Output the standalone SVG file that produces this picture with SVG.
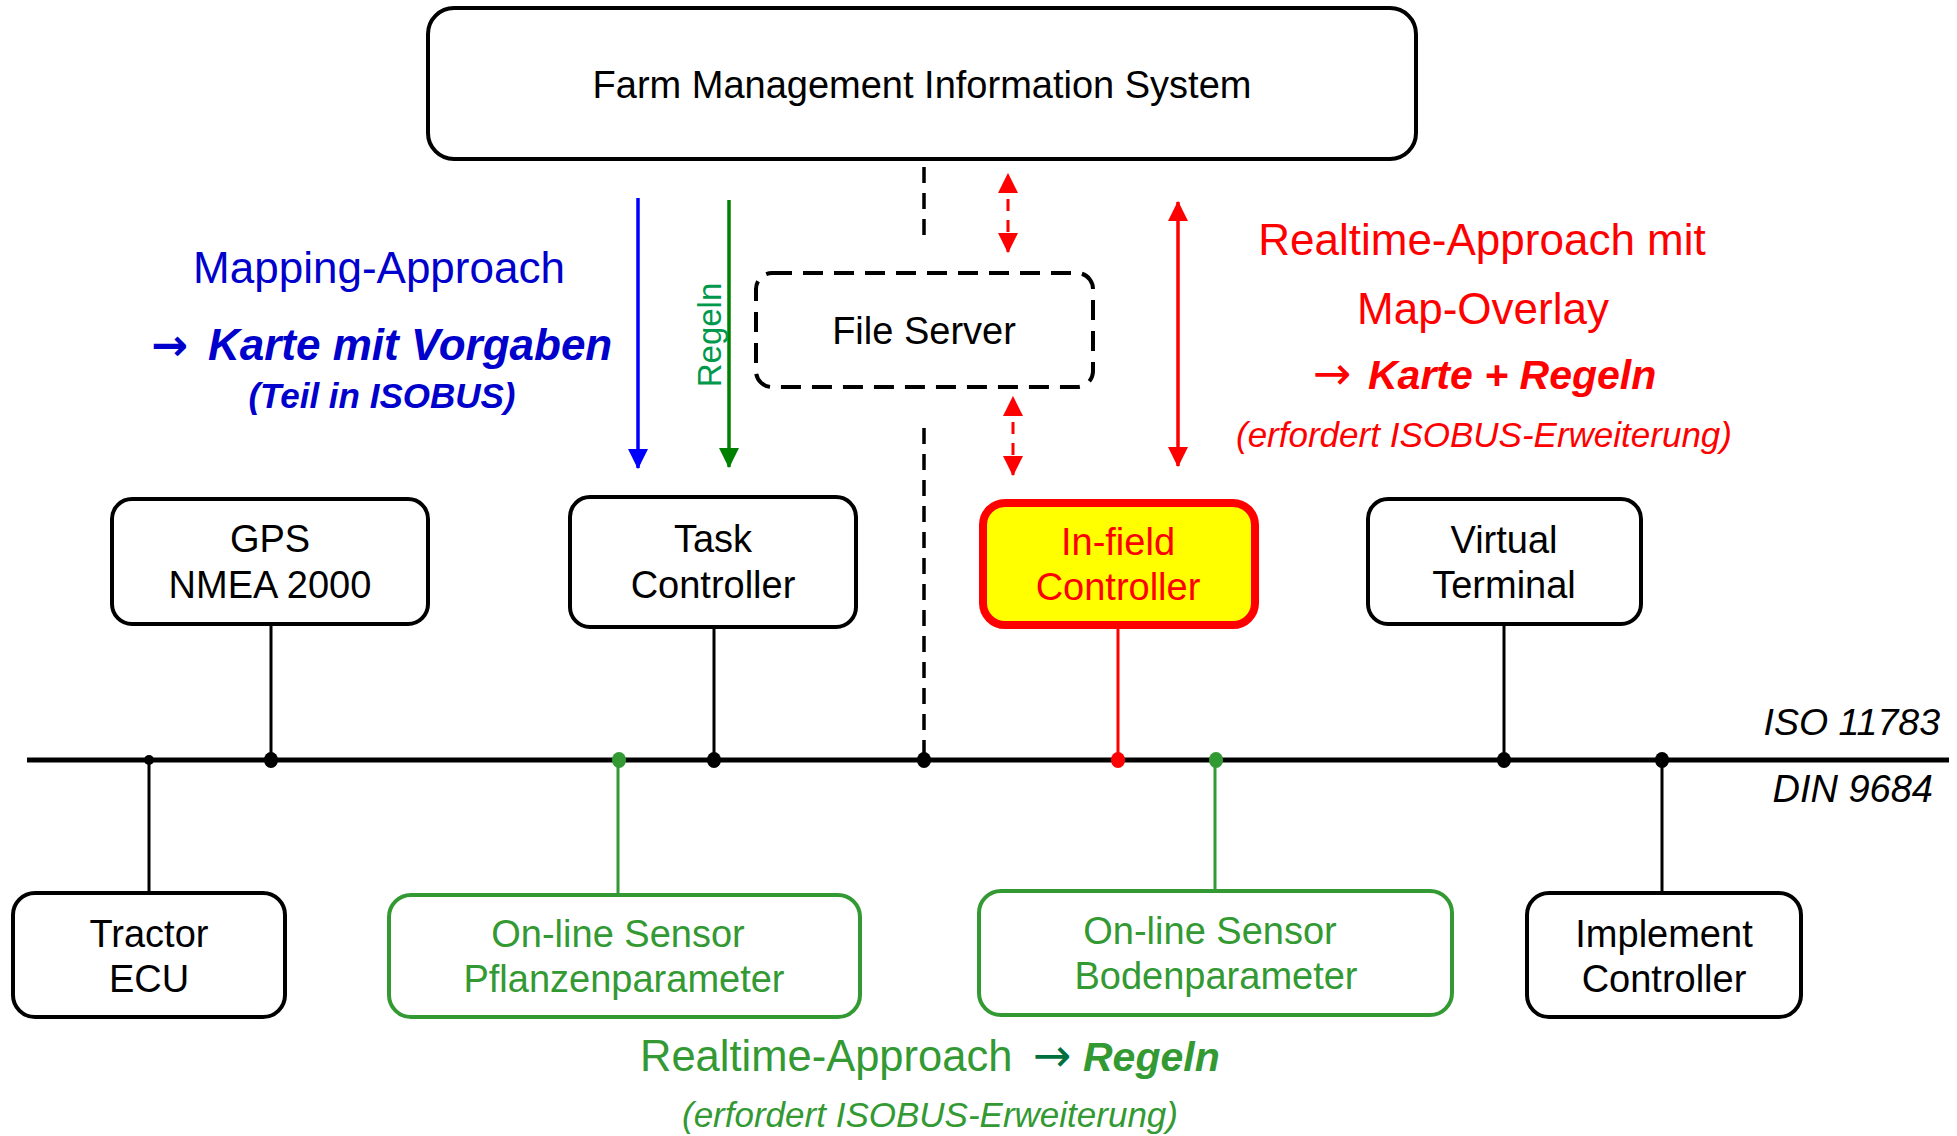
<svg xmlns="http://www.w3.org/2000/svg" width="1957" height="1136" viewBox="0 0 1957 1136">
<defs>
<style>
text{font-family:"Liberation Sans",Arial,sans-serif;}
.box{fill:#fff;stroke:#000;stroke-width:4;}
.gbox{fill:#fff;stroke:#339933;stroke-width:4;}
.lbl{font-size:38px;fill:#000;text-anchor:middle;}
.glbl{font-size:38px;fill:#339933;text-anchor:middle;}
.bus{stroke:#000;stroke-width:5;}
.stub{stroke:#000;stroke-width:3;}
.gstub{stroke:#339933;stroke-width:3;}
.dash{stroke:#000;stroke-width:3.5;stroke-dasharray:16 10;fill:none;}
.arr{font-family:"DejaVu Sans",sans-serif;}
</style>
<marker id="hb" markerUnits="userSpaceOnUse" markerWidth="20" markerHeight="20" viewBox="0 0 18 18" refX="17" refY="9" orient="auto"><path d="M0,0L18,9L0,18z" fill="#0000ff"/></marker>
<marker id="hg" markerUnits="userSpaceOnUse" markerWidth="20" markerHeight="20" viewBox="0 0 18 18" refX="17" refY="9" orient="auto"><path d="M0,0L18,9L0,18z" fill="#008000"/></marker>
<marker id="hr" markerUnits="userSpaceOnUse" markerWidth="20" markerHeight="20" viewBox="0 0 18 18" refX="17" refY="9" orient="auto-start-reverse"><path d="M0,0L18,9L0,18z" fill="#ff0000"/></marker>
</defs>

<g id="connectors">
<line class="bus" x1="27" y1="760" x2="1949" y2="760"/>
<line class="stub" x1="149" y1="760" x2="149" y2="893"/>
<line class="stub" x1="271" y1="624" x2="271" y2="760"/>
<line class="gstub" x1="618" y1="760" x2="618" y2="895"/>
<line class="stub" x1="714" y1="627" x2="714" y2="760"/>
<line x1="1118" y1="629" x2="1118" y2="760" stroke="#ff0000" stroke-width="3"/>
<line class="gstub" x1="1215" y1="760" x2="1215" y2="891"/>
<line class="stub" x1="1504" y1="624" x2="1504" y2="760"/>
<line class="stub" x1="1662" y1="760" x2="1662" y2="893"/>
<line class="dash" x1="924" y1="167" x2="924" y2="245"/>
<line class="dash" x1="924" y1="428" x2="924" y2="757"/>
<ellipse cx="149" cy="760" rx="5" ry="5"/>
<ellipse cx="271" cy="760" rx="7" ry="8"/>
<ellipse cx="619" cy="760" rx="7" ry="8" fill="#339933"/>
<ellipse cx="714" cy="760" rx="7" ry="8"/>
<ellipse cx="924" cy="760" rx="7" ry="8"/>
<ellipse cx="1118" cy="760" rx="7" ry="8" fill="#ff0000"/>
<ellipse cx="1216" cy="760" rx="7" ry="8" fill="#339933"/>
<ellipse cx="1504" cy="760" rx="7" ry="8"/>
<ellipse cx="1662" cy="760" rx="7" ry="8"/>
<line x1="638" y1="198" x2="638" y2="468" stroke="#0000ff" stroke-width="3.5" marker-end="url(#hb)"/>
<line x1="729" y1="200" x2="729" y2="467" stroke="#008000" stroke-width="3.5" marker-end="url(#hg)"/>
<line x1="1178" y1="202" x2="1178" y2="466" stroke="#ff0000" stroke-width="3.5" marker-start="url(#hr)" marker-end="url(#hr)"/>
<line x1="1008" y1="174" x2="1008" y2="252" stroke="#ff0000" stroke-width="3" stroke-dasharray="12 9" stroke-dashoffset="-4" marker-start="url(#hr)" marker-end="url(#hr)"/>
<line x1="1013" y1="397" x2="1013" y2="475" stroke="#ff0000" stroke-width="3" stroke-dasharray="12 9" stroke-dashoffset="-4" marker-start="url(#hr)" marker-end="url(#hr)"/>
</g>

<g id="fmis">
<rect class="box" x="428" y="8" width="988" height="151" rx="26"/>
<text class="lbl" x="922" y="98">Farm Management Information System</text>
</g>

<g id="fileserver">
<rect x="756" y="273" width="337" height="114" rx="16" fill="#fff" stroke="#000" stroke-width="4" stroke-dasharray="20 11"/>
<text class="lbl" x="924" y="344">File Server</text>
</g>

<g id="gps">
<rect class="box" x="112" y="499" width="316" height="125" rx="20"/>
<text class="lbl" x="270" y="552">GPS</text>
<text class="lbl" x="270" y="598">NMEA 2000</text>
</g>

<g id="taskcontroller">
<rect class="box" x="570" y="497" width="286" height="130" rx="20"/>
<text class="lbl" x="713" y="552">Task</text>
<text class="lbl" x="713" y="598">Controller</text>
</g>

<g id="infield">
<rect x="983" y="503" width="272" height="122" rx="22" fill="#ffff00" stroke="#ff0000" stroke-width="8"/>
<text class="lbl" x="1118" y="555" style="fill:#ff0000">In-field</text>
<text class="lbl" x="1118" y="600" style="fill:#ff0000">Controller</text>
</g>

<g id="vt">
<rect class="box" x="1368" y="499" width="273" height="125" rx="20"/>
<text class="lbl" x="1504" y="553">Virtual</text>
<text class="lbl" x="1504" y="598">Terminal</text>
</g>

<g id="tractor">
<rect class="box" x="13" y="893" width="272" height="124" rx="22"/>
<text class="lbl" x="149" y="947">Tractor</text>
<text class="lbl" x="149" y="992">ECU</text>
</g>

<g id="sensorpflanzen">
<rect class="gbox" x="389" y="895" width="471" height="122" rx="22"/>
<text class="glbl" x="618" y="947">On-line Sensor</text>
<text class="glbl" x="624" y="992">Pflanzenparameter</text>
</g>

<g id="sensorboden">
<rect class="gbox" x="979" y="891" width="473" height="124" rx="22"/>
<text class="glbl" x="1210" y="944">On-line Sensor</text>
<text class="glbl" x="1216" y="989">Bodenparameter</text>
</g>

<g id="implement">
<rect class="box" x="1527" y="893" width="274" height="124" rx="22"/>
<text class="lbl" x="1664" y="947">Implement</text>
<text class="lbl" x="1664" y="992">Controller</text>
</g>

<g id="labels">
<text x="379" y="283" font-size="44" fill="#0000cc" text-anchor="middle">Mapping-Approach</text>
<text x="151" y="360" class="arr" font-size="44" font-weight="bold" fill="#0000cc">→</text>
<text x="208" y="360" font-size="44" fill="#0000cc" font-weight="bold" font-style="italic">Karte mit Vorgaben</text>
<text x="382" y="408" font-size="35" fill="#0000cc" font-weight="bold" font-style="italic" text-anchor="middle">(Teil in ISOBUS)</text>
<text x="710" y="335" font-size="33" fill="#00994c" text-anchor="middle" transform="rotate(-90 710 335)" dy="11">Regeln</text>

<text x="1482" y="255" font-size="44" fill="#ff0000" text-anchor="middle">Realtime-Approach mit</text>
<text x="1483" y="324" font-size="44" fill="#ff0000" text-anchor="middle">Map-Overlay</text>
<text x="1313" y="389" class="arr" font-size="46" fill="#ff0000">→</text>
<text x="1368" y="389" font-size="41" fill="#ff0000" font-weight="bold" font-style="italic">Karte + Regeln</text>
<text x="1484" y="447" font-size="35" fill="#ff0000" font-style="italic" text-anchor="middle">(erfordert ISOBUS-Erweiterung)</text>

<text x="1940" y="735" font-size="37.5" font-style="italic" text-anchor="end">ISO 11783</text>
<text x="1933" y="802" font-size="38" font-style="italic" text-anchor="end">DIN 9684</text>

<text x="640" y="1071" font-size="43.5" fill="#339933">Realtime-Approach</text>
<text x="1033" y="1071" class="arr" font-size="46" fill="#007040">→</text>
<text x="1083" y="1071" font-size="41" fill="#339933" font-weight="bold" font-style="italic">Regeln</text>
<text x="930" y="1127" font-size="35" fill="#339933" font-style="italic" text-anchor="middle">(erfordert ISOBUS-Erweiterung)</text>
</g>
</svg>
